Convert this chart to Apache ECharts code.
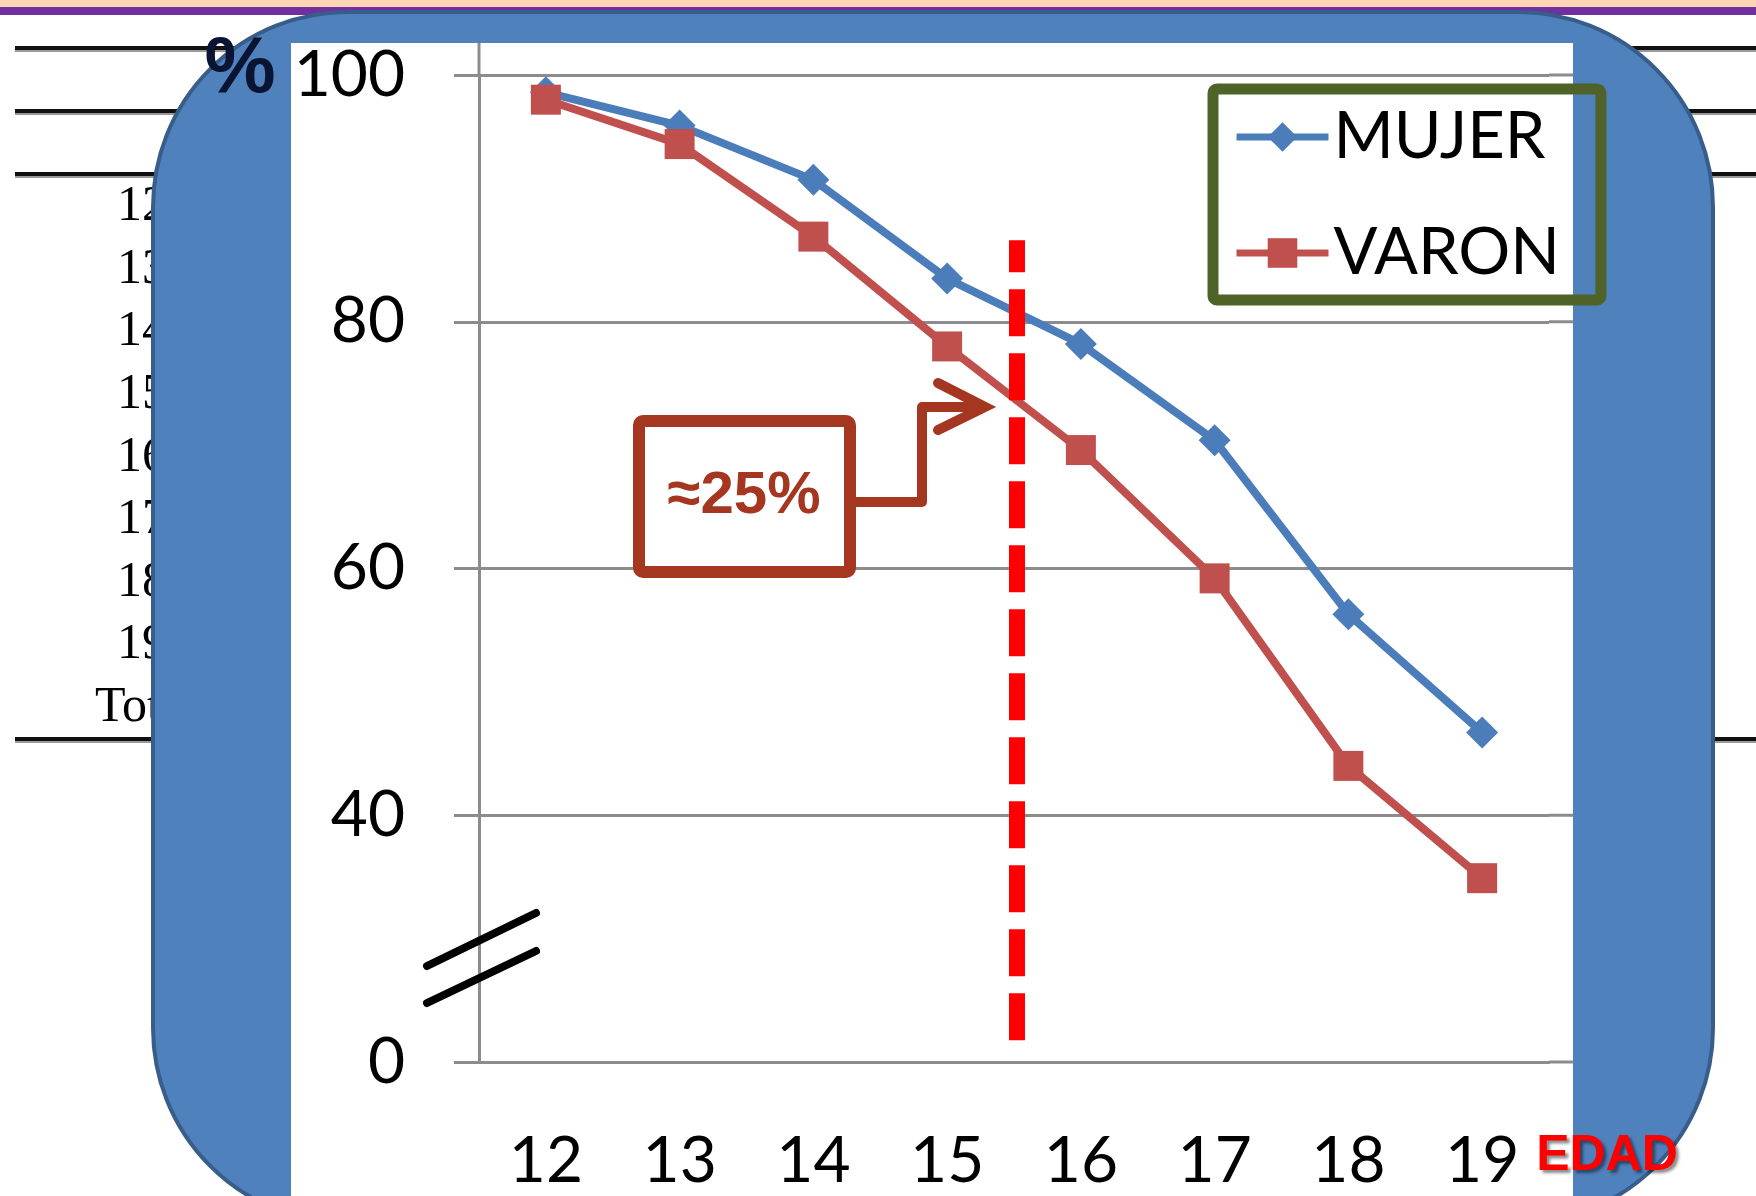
<!DOCTYPE html>
<html>
<head>
<meta charset="utf-8">
<script src="https://cdn.jsdelivr.net/npm/echarts@6/dist/echarts.min.js"></script>
<style>
  html, body { margin: 0; padding: 0; background: #fff; }
  #main { width: 1756px; height: 1196px; }
</style>
</head>
<body>
<div id="main"></div>
<script>
// data (y axis is broken: 20 is printed as "0")
const AGES = ['12', '13', '14', '15', '16', '17', '18', '19'];
const MUJER = [98.6, 95.9, 91.5, 83.5, 78.2, 70.4, 56.3, 46.7];
const VARON = [98.0, 94.4, 86.9, 78.0, 69.6, 59.2, 44.0, 34.9];
const Y_TICKS = [20, 40, 60, 80, 100];
const Y_TICK_LABELS = ['0', '40', '60', '80', '100'];
const TABLE_ROWS = ['12', '13', '14', '15', '16', '17', '18', '19', 'Total'];

const GRAY = '#8c8c8c';
const FONT = 'Lato';
const BROWN = '#a5361f';

const chart = echarts.init(document.getElementById('main'));

chart.setOption({
  animation: false,
  grid: { left: 479, top: 75, width: 1070, bottom: 134 },
  legend: {
    orient: 'vertical',
    left: 1213,
    top: 89,
    padding: [13, 41, 12, 20],
    itemGap: 46,
    itemWidth: 92,
    itemHeight: 37,
    borderColor: '#4f6228',
    borderWidth: 11,
    borderRadius: 4,
    selectedMode: false,
    lineStyle: { width: 7 },
    textStyle: { fontFamily: FONT, fontSize: 65, lineHeight: 70, color: '#000' },
    data: ['MUJER', 'VARON']
  },
  xAxis: {
    type: 'category',
    data: AGES,
    boundaryGap: true,
    axisLine: { lineStyle: { color: GRAY, width: 3 } },
    axisTick: { length: 25, interval: 0, lineStyle: { color: GRAY, width: 3 } },
    axisLabel: { fontFamily: FONT, fontSize: 64, color: '#000', margin: 67, interval: 0 },
    splitLine: { show: false }
  },
  yAxis: {
    type: 'value',
    min: Y_TICKS[0],
    max: Y_TICKS[Y_TICKS.length - 1],
    interval: 20,
    axisLine: { show: true, lineStyle: { color: GRAY, width: 3 } },
    axisTick: { show: true, length: 25, lineStyle: { color: GRAY, width: 3 } },
    axisLabel: {
      fontFamily: FONT, fontSize: 64, color: '#000', margin: 74,
      formatter: v => Y_TICK_LABELS[Y_TICKS.indexOf(v)] ?? ''
    },
    splitLine: { lineStyle: { color: GRAY, width: 3 } }
  },
  series: [
    {
      name: 'MUJER', type: 'line', data: MUJER,
      symbol: 'diamond', symbolSize: 32,
      lineStyle: { color: '#4a7dba', width: 8 },
      itemStyle: { color: '#4a7dba' }
    },
    {
      name: 'VARON', type: 'line', data: VARON,
      symbol: 'rect', symbolSize: 30,
      lineStyle: { color: '#c0504d', width: 8 },
      itemStyle: { color: '#c0504d' }
    }
  ]
});

// decorations placed from the chart's own scales
const px = (i, v) => chart.convertToPixel({ gridIndex: 0 }, [i, v]);
const catW = px(1, 20)[0] - px(0, 20)[0];
const plotRight = px(AGES.length - 1, 20)[0] + catW / 2;
const axisX = px(0, 20)[0] - catW / 2;
const WHITE_RIGHT = 1573;

const els = [];
// slide background
els.push({ type: 'rect', z: -20, shape: { x: 0, y: 0, width: 1756, height: 7 }, style: { fill: '#fcd5b5' } });
els.push({ type: 'rect', z: -20, shape: { x: 0, y: 7, width: 1756, height: 8 }, style: { fill: '#7030a0' } });
// table rules behind the shape
[48, 111, 174, 739].forEach(y => {
  els.push({ type: 'line', z: -19, shape: { x1: 15, y1: y + 3, x2: 1756, y2: y + 3 }, style: { stroke: '#9a9a9a', lineWidth: 2 } });
  els.push({ type: 'line', z: -18, shape: { x1: 15, y1: y, x2: 1756, y2: y }, style: { stroke: '#111', lineWidth: 4 } });
});
TABLE_ROWS.forEach((t, i) => {
  els.push({
    type: 'text', z: -18,
    style: {
      text: t, x: t === 'Total' ? 95 : 117, y: 207 + i * 62.6,
      font: '50px "Liberation Serif"', fill: '#000',
      align: 'left', verticalAlign: 'middle', textAlign: 'left', textVerticalAlign: 'middle'
    }
  });
});
// blue rounded shape and white plot panel
els.push({
  type: 'rect', z: -15,
  shape: { x: 153, y: 12, width: 1560, height: 1211, r: 195 },
  style: { fill: '#4f81bd', stroke: '#385d8a', lineWidth: 4 }
});
els.push({ type: 'rect', z: -14, shape: { x: 291, y: 43, width: WHITE_RIGHT - 291, height: 1196 - 43 }, style: { fill: '#fff' } });

// axis lines continuing to the panel edges
els.push({ type: 'line', z: 1, shape: { x1: axisX, y1: 43, x2: axisX, y2: px(0, 100)[1] }, style: { stroke: GRAY, lineWidth: 3 } });
Y_TICKS.forEach(v => {
  const y = px(0, v)[1];
  els.push({ type: 'line', z: 1, shape: { x1: plotRight, y1: y, x2: WHITE_RIGHT, y2: y }, style: { stroke: GRAY, lineWidth: 3 } });
});

// axis break marks
els.push({ type: 'line', z: 10, shape: { x1: 427, y1: 966, x2: 536, y2: 913 }, style: { stroke: '#000', lineWidth: 8, lineCap: 'round' } });
els.push({ type: 'line', z: 10, shape: { x1: 427, y1: 1003, x2: 536, y2: 951 }, style: { stroke: '#000', lineWidth: 8, lineCap: 'round' } });

// red dashed line between 15 and 16
const dashX = (px(3, 20)[0] + px(4, 20)[0]) / 2 + 3;
els.push({
  type: 'line', z: 10,
  shape: { x1: dashX, y1: px(0, 86.6)[1], x2: dashX, y2: px(0, 21.7)[1] },
  style: { stroke: '#ff0000', lineWidth: 16, lineDash: [47, 17], lineDashOffset: 15 }
});

// annotation box + elbow arrow
els.push({ type: 'rect', z: 10, shape: { x: 639, y: 421, width: 211, height: 151, r: 4 }, style: { fill: null, stroke: BROWN, lineWidth: 12 } });
els.push({
  type: 'text', z: 11,
  style: {
    text: '≈25%', x: 744, y: 496, font: 'bold 60px "Liberation Sans"', fill: BROWN,
    align: 'center', verticalAlign: 'middle', textAlign: 'center', textVerticalAlign: 'middle'
  }
});
els.push({
  type: 'polyline', z: 10,
  shape: { points: [[856, 502], [922, 502], [922, 407], [980, 407]] },
  style: { stroke: BROWN, lineWidth: 10, lineJoin: 'round', fill: null }
});
els.push({
  type: 'polyline', z: 10,
  shape: { points: [[938, 383], [985, 407], [938, 430]] },
  style: { stroke: BROWN, lineWidth: 10, lineCap: 'round', lineJoin: 'miter', fill: null }
});

// unit and axis titles
els.push({
  type: 'text', z: 11,
  style: {
    text: '%', x: 240, y: 70, font: 'bold 80px "Liberation Sans"', fill: '#0a1433',
    align: 'center', verticalAlign: 'middle', textAlign: 'center', textVerticalAlign: 'middle'
  }
});
els.push({
  type: 'text', z: 11,
  style: {
    text: 'EDAD', x: 1607, y: 1156, font: 'bold 50px "Liberation Sans"', fill: '#ff0000',
    align: 'center', verticalAlign: 'middle', textAlign: 'center', textVerticalAlign: 'middle',
    textShadowColor: 'rgba(0,0,0,0.45)', textShadowBlur: 3, textShadowOffsetX: 3, textShadowOffsetY: 3
  }
});

chart.setOption({ graphic: { elements: els } });
</script>
</body>
</html>
